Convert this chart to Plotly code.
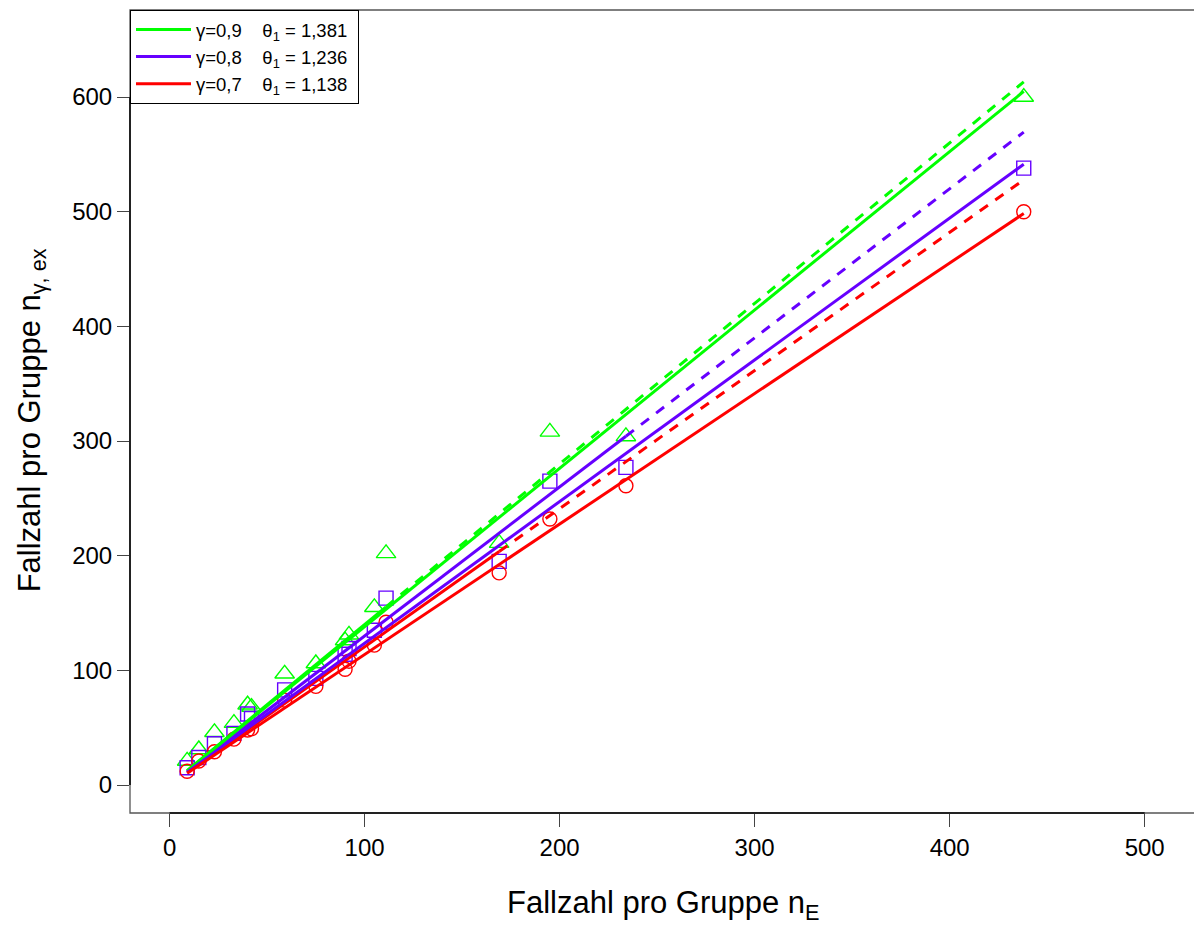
import plotly.graph_objects as go

# Fallzahl pro Gruppe (Standardverfahren)
n_E = [9, 15, 23, 33, 40, 42, 59, 75, 90, 92, 105, 111, 169, 195, 234, 438]

# exakte Fallzahlen je Konfidenzniveau gamma
n_g09 = [21, 31, 46, 54, 70, 68, 97, 106, 126, 131, 155, 202, 211, 308, 304, 600]
n_g08 = [15, 24, 36, 45, 62, 58, 83, 93, 114, 119, 135, 163, 195, 265, 277, 538]
n_g07 = [12, 21, 29, 40, 48, 49, 74, 86, 101, 108, 122, 142, 185, 232, 261, 500]

gamma_labels = ["0,9", "0,8", "0,7"]
theta1 = [1.381, 1.236, 1.138]
theta1_labels = ["1,381", "1,236", "1,138"]
fit_slope = [1.40, 1.30, 1.205]
fit_solid_until = [111, 234, 169]

colors = ["#00FF00", "#6600FF", "#FF0000"]
symbols = ["triangle-up-open", "square-open", "circle-open"]
msizes = [17, 14, 14]
series = [n_g09, n_g08, n_g07]

x_ticks = [0, 100, 200, 300, 400, 500]
y_ticks = [0, 100, 200, 300, 400, 500, 600]

fig = go.Figure()

# Punkte
for ys, c, s, ms in zip(series, colors, symbols, msizes):
    fig.add_trace(go.Scatter(
        x=n_E, y=ys, mode="markers", showlegend=False,
        marker=dict(symbol=s, size=ms, color=c, line=dict(color=c, width=1.4)),
    ))

x0, x1 = n_E[0], n_E[-1]

# Anpassungsgeraden: durchgezogen im Stützbereich, gestrichelt darüber hinaus
for b, xb, c in zip(fit_slope, fit_solid_until, colors):
    fig.add_trace(go.Scatter(
        x=[x0, xb], y=[b * x0, b * xb], mode="lines", showlegend=False,
        line=dict(color=c, width=3),
    ))
    fig.add_trace(go.Scatter(
        x=[xb, x1], y=[b * xb, b * x1], mode="lines", showlegend=False,
        line=dict(color=c, width=3, dash="10px,9px"),
    ))

# Geraden n = theta1 * n_E
for th, g, tl, c in zip(theta1, gamma_labels, theta1_labels, colors):
    fig.add_trace(go.Scatter(
        x=[x0, x1], y=[th * x0, th * x1], mode="lines",
        name="\u03b3=" + g + "\u00a0\u00a0\u00a0\u00a0\u03b8<sub>1</sub> = " + tl + "\u00a0",
        line=dict(color=c, width=3),
    ))

font_family = "Liberation Sans, Arial, sans-serif"

fig.update_layout(
    width=1194, height=925,
    margin=dict(l=130, r=0, t=10, b=112),
    plot_bgcolor="white", paper_bgcolor="white",
    font=dict(family=font_family, color="black"),
    xaxis=dict(
        range=[-20.3, 525.3], tickvals=x_ticks, ticks="outside", ticklen=13,
        tickwidth=1.2, tickcolor="#444", showline=False, showgrid=False,
        zeroline=False, tickfont=dict(size=24),
    ),
    yaxis=dict(
        range=[-24.4, 675.9], tickvals=y_ticks, ticks="outside", ticklen=12,
        tickwidth=1.2, tickcolor="#444", showline=False, showgrid=False,
        zeroline=False, tickfont=dict(size=24),
    ),
    legend=dict(
        x=0, y=1, xanchor="left", yanchor="top",
        bgcolor="white", bordercolor="black", borderwidth=1,
        font=dict(size=18.5, family=font_family), itemwidth=55,
    ),
    shapes=[
        dict(type="rect", xref="paper", yref="paper", x0=0, x1=1.05, y0=0, y1=1,
             line=dict(color="#555", width=1.3)),
        dict(type="line", xref="x", yref="paper", x0=x_ticks[0], x1=x_ticks[-1], y0=0, y1=0,
             line=dict(color="#222", width=2)),
        dict(type="line", xref="paper", yref="y", x0=0, x1=0, y0=y_ticks[0], y1=y_ticks[-1],
             line=dict(color="#222", width=2)),
    ],
    annotations=[
        dict(text="Fallzahl pro Gruppe n<sub>E</sub>", xref="paper", yref="paper",
             x=0.501, y=-0.114, xanchor="center", yanchor="middle", showarrow=False,
             font=dict(size=31)),
        dict(text="Fallzahl pro Gruppe n<sub>\u03b3, ex</sub>", xref="paper", yref="paper",
             x=-0.0921, y=0.489, xanchor="center", yanchor="middle", showarrow=False,
             textangle=-90, font=dict(size=31)),
    ],
)

fig.write_html("out.html")
